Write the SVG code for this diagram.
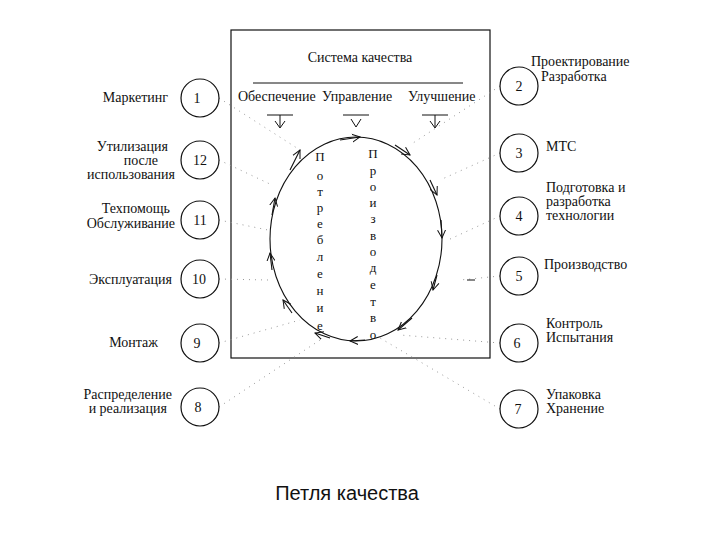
<svg xmlns="http://www.w3.org/2000/svg" width="720" height="540" viewBox="0 0 720 540">
<style>
text{font-family:"Liberation Serif",serif;font-size:14px;fill:#111}
.n circle{fill:#fff;stroke:#111;stroke-width:1.2}
.d{stroke:#999;stroke-width:1;stroke-dasharray:1 5;fill:none}
.v{font-size:13px;text-anchor:middle}
.ah{fill:none;stroke:#111;stroke-width:1}
</style>
<defs><marker id="a" markerWidth="10" markerHeight="10" refX="8" refY="5" orient="auto" markerUnits="userSpaceOnUse"><path d="M0,1 L8,5 L0,9" class="ah"/></marker></defs>
<rect width="720" height="540" fill="#fff"/>
<rect x="231" y="30" width="259" height="328" fill="none" stroke="#111" stroke-width="1.2"/>
<text x="360" y="62" text-anchor="middle">Система качества</text>
<line x1="253" y1="83" x2="463" y2="83" stroke="#111"/>
<text x="238" y="101">Обеспечение</text><text x="322" y="101">Управление</text><text x="408" y="101">Улучшение</text>
<g stroke="#111" fill="none"><path d="M267,115h26M280,115v12M275,121l5,7 5-7"/><path d="M343,115h26M351,119l5,8 5-8"/><path d="M422,115h26M435,115v12M430,121l5,7 5-7"/></g>
<g id="connectors">
<path class="d" d="M219,98L300,150M219,160L272,185M219,220L268,230M219,279L268,280M219,343L300,320M219,407L320,340M500,86L410,145M500,153L440,180M500,216L448,240M500,276L460,280M500,343L400,335M500,409L380,338"/>
<g fill="none" stroke="#111" stroke-width="1.1">
<ellipse cx="356" cy="239" rx="86" ry="102"/>
<path d="M290,170 L300,150" marker-end="url(#a)"/>
<path d="M340,140 L360,137" marker-end="url(#a)"/>
<path d="M395,145 L410,155" marker-end="url(#a)"/>
<path d="M430,180 L437,195" marker-end="url(#a)"/>
<path d="M441,220 L442,238" marker-end="url(#a)"/>
<path d="M437,275 L433,290" marker-end="url(#a)"/>
<path d="M412,318 L398,330" marker-end="url(#a)"/>
<path d="M365,340 L350,341" marker-end="url(#a)"/>
<path d="M330,338 L315,333" marker-end="url(#a)"/>
<path d="M292,313 L283,300" marker-end="url(#a)"/>
<path d="M272,270 L270,253" marker-end="url(#a)"/>
<path d="M272,215 L275,198" marker-end="url(#a)"/>
</g></g>
<g id="vert1"><text class="v" x="320" y="161" font-size="16">П</text><text class="v" x="320" y="180">о</text><text class="v" x="320" y="196">т</text><text class="v" x="320" y="212">р</text><text class="v" x="320" y="228">е</text><text class="v" x="320" y="244">б</text><text class="v" x="320" y="261">л</text><text class="v" x="320" y="278">е</text><text class="v" x="320" y="295">н</text><text class="v" x="320" y="312">и</text><text class="v" x="320" y="330">е</text></g>
<g id="vert2"><text class="v" x="373" y="158" font-size="16">П</text><text class="v" x="373" y="175">р</text><text class="v" x="373" y="191">о</text><text class="v" x="373" y="207">и</text><text class="v" x="373" y="223">з</text><text class="v" x="373" y="240">в</text><text class="v" x="373" y="256">о</text><text class="v" x="373" y="272">д</text><text class="v" x="373" y="289">е</text><text class="v" x="373" y="306">т</text><text class="v" x="373" y="322">в</text><text class="v" x="373" y="339">о</text></g>
<line x1="467" y1="280" x2="475" y2="280" stroke="#111"/>
<g id="n1" class="n"><circle cx="200" cy="98" r="19"/><text x="197" y="103" text-anchor="middle">1</text><text x="168" y="102" text-anchor="end">Маркетинг</text></g>
<g id="n12" class="n"><circle cx="200" cy="160" r="19"/><text x="200" y="165" text-anchor="middle">12</text><text x="168" y="151" text-anchor="end">Утилизация</text><text x="158" y="165" text-anchor="end">после</text><text x="175" y="179" text-anchor="end">использования</text></g>
<g id="n11" class="n"><circle cx="200" cy="220" r="19"/><text x="200" y="225" text-anchor="middle">11</text><text x="170" y="213" text-anchor="end">Техпомощь</text><text x="175" y="228" text-anchor="end">Обслуживание</text></g>
<g id="n10" class="n"><circle cx="200" cy="279" r="19"/><text x="199" y="284" text-anchor="middle">10</text><text x="172" y="284" text-anchor="end">Эксплуатация</text></g>
<g id="n9" class="n"><circle cx="200" cy="343" r="19"/><text x="197" y="348" text-anchor="middle">9</text><text x="158" y="347" text-anchor="end">Монтаж</text></g>
<g id="n8" class="n"><circle cx="200" cy="407" r="19"/><text x="198" y="412" text-anchor="middle">8</text><text x="172" y="399" text-anchor="end">Распределение</text><text x="167" y="413" text-anchor="end">и реализация</text></g>
<g id="n2" class="n"><circle cx="519" cy="86" r="19"/><text x="519" y="91" text-anchor="middle">2</text><text x="531" y="66">Проектирование</text><text x="541" y="81">Разработка</text></g>
<g id="n3" class="n"><circle cx="519" cy="153" r="19"/><text x="519" y="158" text-anchor="middle">3</text><text x="546" y="151">МТС</text></g>
<g id="n4" class="n"><circle cx="519" cy="216" r="19"/><text x="519" y="221" text-anchor="middle">4</text><text x="546" y="192">Подготовка и</text><text x="546" y="206">разработка</text><text x="546" y="220">технологии</text></g>
<g id="n5" class="n"><circle cx="519" cy="276" r="19"/><text x="519" y="281" text-anchor="middle">5</text><text x="544" y="269">Производство</text></g>
<g id="n6" class="n"><circle cx="519" cy="343" r="19"/><text x="517" y="348" text-anchor="middle">6</text><text x="546" y="328">Контроль</text><text x="546" y="342">Испытания</text></g>
<g id="n7" class="n"><circle cx="519" cy="409" r="19"/><text x="518" y="414" text-anchor="middle">7</text><text x="546" y="399">Упаковка</text><text x="546" y="413">Хранение</text></g>
<text x="347" y="500" text-anchor="middle" style="font-family:'Liberation Sans',sans-serif;font-size:20px">Петля качества</text>
</svg>
